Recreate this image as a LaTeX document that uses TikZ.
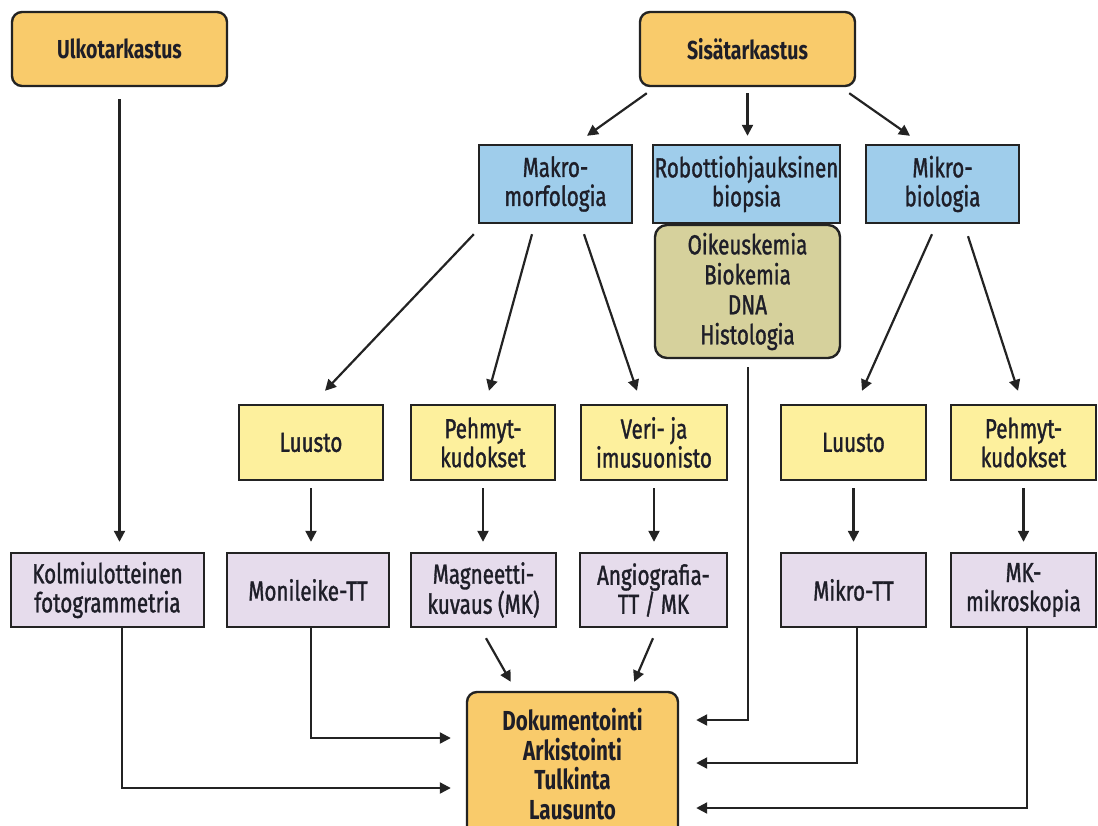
\documentclass[tikz,border=0pt]{standalone}
\usepackage{fontspec}
\setmainfont[FakeStretch=0.75,FakeBold=1.2,BoldFeatures={FakeBold=0}]{Fira Sans}
\usetikzlibrary{arrows.meta,calc}
\definecolor{orangebox}{HTML}{F9CB6B}
\definecolor{bluebox}{HTML}{9FCDEB}
\definecolor{yellowbox}{HTML}{FDF09D}
\definecolor{purplebox}{HTML}{E6DCEC}
\definecolor{olivebox}{HTML}{D6D19C}
\definecolor{edge}{HTML}{232323}
\definecolor{txt}{HTML}{1E1E28}
\begin{document}
\begin{tikzpicture}[x=1pt,y=-1pt,
  box/.style={draw=edge,line width=2.4pt,inner sep=0pt,align=center,text=txt,
    font=\fontsize{27.5}{29}\selectfont},
  obox/.style={box,fill=orangebox,rounded corners=10pt},
  bbox/.style={box,fill=bluebox,minimum height=78pt},
  ybox/.style={box,fill=yellowbox,minimum height=75pt},
  pbox/.style={box,fill=purplebox,minimum height=74pt},
  arr/.style={draw=edge,line width=2.2pt,-{Triangle[length=11pt,width=11pt]}},
  ln/.style={draw=edge,line width=2pt}]
\useasboundingbox (0,0) rectangle (1098,825);
% top
\node[obox,minimum width=215pt,minimum height=74pt,font=\bfseries\fontsize{26}{29}\selectfont] (ulko) at (119.5,49) {Ulkotarkastus};
\node[obox,minimum width=215pt,minimum height=74pt,font=\bfseries\fontsize{26}{29}\selectfont] (sisa) at (747.5,49) {Sisätarkastus};
% blue
\node[bbox,minimum width=153pt] (makro) at (555.5,184) {Makro-\\morfologia};
\node[bbox,minimum width=187pt] (robot) at (746.5,184) {Robottiohjauksinen\\biopsia};
\node[bbox,minimum width=153pt] (mikro) at (942.5,184) {Mikro-\\biologia};
\node[box,fill=olivebox,rounded corners=12pt,minimum width=185pt,minimum height=133pt,font=\fontsize{27.5}{30}\selectfont] (oikeus) at (747.5,291.5) {Oikeuskemia\\Biokemia\\DNA\\Histologia};
% yellow
\node[ybox,minimum width=144pt] (luu1) at (311,442.5) {Luusto};
\node[ybox,minimum width=144pt] (peh1) at (483,442.5) {Pehmyt-\\kudokset};
\node[ybox,minimum width=146pt] (veri) at (654,442.5) {Veri- ja\\imusuonisto};
\node[ybox,minimum width=145pt] (luu2) at (853.5,442.5) {Luusto};
\node[ybox,minimum width=145pt] (peh2) at (1023.5,442.5) {Pehmyt-\\kudokset};
% purple
\node[pbox,minimum width=193pt] (kolmi) at (107.5,590) {Kolmiulotteinen\\fotogrammetria};
\node[pbox,minimum width=162pt] (moni) at (308,590) {Monileike-TT};
\node[pbox,minimum width=145pt] (magn) at (483.5,590) {Magneetti-\\kuvaus (MK)};
\node[pbox,minimum width=147pt] (angio) at (653.5,590) {Angiografia-\\TT / MK};
\node[pbox,minimum width=145pt] (mtt) at (853.5,590) {Mikro-TT};
\node[pbox,minimum width=145pt] (mkm) at (1023.5,590) {MK-\\mikroskopia};
% bottom
\node[obox,minimum width=211pt,minimum height=144pt,font=\bfseries\fontsize{27.5}{29.5}\selectfont] (doku) at (572.5,764) {Dokumentointi\\Arkistointi\\Tulkinta\\Lausunto};
% arrows from Sisatarkastus
\draw[arr] ($(sisa.south west)+(8,6)$) -- ($(makro.north)+(31.5,-8)$);
\draw[arr] ($(sisa.south)+(0,6)$) -- ($(robot.north)+(1,-8)$);
\draw[arr] ($(sisa.south east)+(-7,6)$) -- ($(mikro.north)+(-32.5,-8)$);
% from Makro / Mikro
\draw[arr] ($(makro.south west)+(-4,10)$) -- ($(luu1.north)+(14,-13)$);
\draw[arr] ($(makro.south)+(-23.5,10)$) -- ($(peh1.north)+(6,-13)$);
\draw[arr] ($(makro.south)+(28.5,10)$) -- ($(veri.north)+(-17,-13)$);
\draw[arr] ($(mikro.south)+(-10.5,10)$) -- ($(luu2.north)+(8.5,-13)$);
\draw[arr] ($(mikro.south)+(25.5,12)$) -- ($(peh2.north)+(-5.5,-13)$);
% yellow to purple
\foreach \a/\b in {luu1/moni,peh1/magn,veri/angio,luu2/mtt,peh2/mkm}{
  \draw[arr] ($(\a.south)+(0,7)$) -- ($(\a.south |- \b.north)+(0,-10)$);
}
% Ulkotarkastus to Kolmiulotteinen
\draw[arr] ($(ulko.south)+(0,12)$) -- ($(ulko.south |- kolmi.north)+(0,-10)$);
% to Dokumentointi
\draw[arr] ($(kolmi.south)+(14.5,0)$) |- ($(doku.west)+(-15,24)$);
\draw[arr] ($(moni.south)+(3,0)$) |- ($(doku.west)+(-15,-26)$);
\draw[arr] ($(magn.south)+(2.5,10)$) -- ($(doku.north west)+(45,-9)$);
\draw[arr] ($(angio.south)+(-0.5,10)$) -- ($(doku.north east)+(-45,-9)$);
\draw[arr] ($(oikeus.south)+(0.5,8)$) |- ($(doku.east)+(17,-44)$);
\draw[arr] ($(mtt.south)+(3.5,0)$) |- ($(doku.east)+(17,-1)$);
\draw[arr] ($(mkm.south)+(3.5,0)$) |- ($(doku.east)+(17,44)$);
\end{tikzpicture}
\end{document}
